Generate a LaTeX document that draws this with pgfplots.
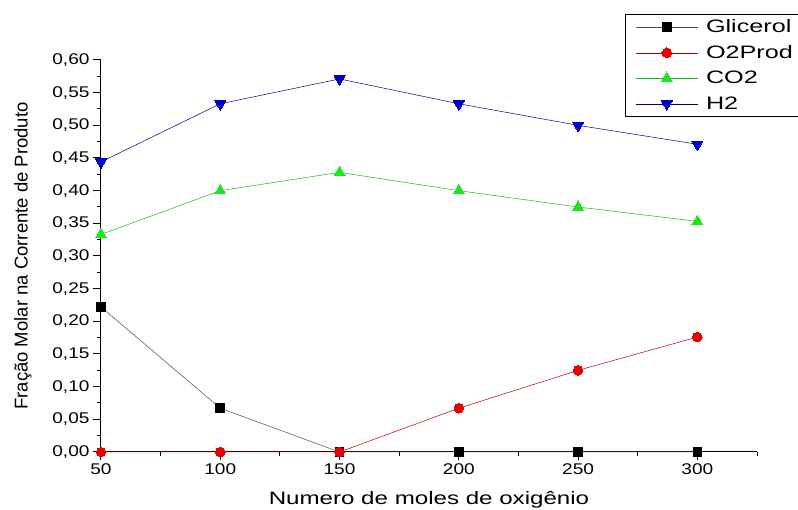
\documentclass[border=0pt]{standalone}
\usepackage{graphicx}
\usepackage{pgfplots}
\pgfplotsset{compat=1.18}
\usetikzlibrary{calc}
\usepackage{fontspec}
\setmainfont{Liberation Sans}
\newcommand\lgs[1]{\hspace*{6pt}\scalebox{1.4}[1]{#1}}
\newcommand\tks[1]{\scalebox{1.23}[1]{#1}}
\definecolor{co2p}{RGB}{230,0,0}
\definecolor{cco}{RGB}{30,230,30}
\definecolor{chh}{RGB}{0,0,200}
\begin{document}
\begin{tikzpicture}
\begin{axis}[name=ax,
  scale only axis, width=656pt, height=392pt,
  xmin=50, xmax=325, ymin=0, ymax=0.60,
  axis x line*=bottom, axis y line*=left,
  axis line style={line width=1pt},
  xtick={50,100,150,200,250,300},
  minor xtick={75,125,175,225,275,325},
  ytick={0,0.05,...,0.61},
  minor ytick={0.025,0.075,...,0.6},
  tick align=outside,
  major tick length=8pt, minor tick length=4pt,
  tick style={line width=1pt, black},
  /pgf/number format/assume math mode=true,
  ticklabel style={font=\fontsize{15.5}{17}\selectfont},
  xticklabel={\tks{\pgfmathprintnumber[fixed,precision=0]{\tick}}},
  yticklabel={\tks{\pgfmathprintnumber[fixed,fixed zerofill,precision=2,use comma]{\tick}}},
  xlabel={\scalebox{1.34}[1]{Numero de moles de oxigênio}},
  ylabel={Fração Molar na Corrente de Produto},
  xlabel style={font=\fontsize{18}{20}\selectfont, yshift=-10pt},
  ylabel style={font=\fontsize{18.5}{20}\selectfont, yshift=14pt},
  legend style={at={(0.799,1.117)}, anchor=north west, draw=black, line width=0.8pt,
     font=\fontsize{18}{20}\selectfont, row sep=8pt, inner xsep=10pt, inner ysep=4pt,
     cells={anchor=west, text height=12pt, text depth=3pt}},
  legend image code/.code={\draw[#1, mark repeat=2, mark phase=2] plot coordinates {(0pt,0pt) (31pt,0pt) (62pt,0pt)};},
  every axis plot/.append style={line width=0.5pt},
  clip=false,
]
\addplot[color=black!70, mark=square*, mark size=4.3pt, mark options={fill=black, draw=black, line width=0pt}]
 coordinates {(50,0.222) (100,0.067) (150,0) (200,0) (250,0) (300,0)};
\addlegendentry{\lgs{Glicerol}}
\addplot[color=co2p!80!black, mark=*, mark size=4.8pt, mark options={fill=co2p, draw=co2p, line width=0pt}]
 coordinates {(50,0) (100,0) (150,0) (200,0.067) (250,0.125) (300,0.176)};
\addlegendentry{\lgs{O2Prod}}
\addplot[color=cco!80!black, mark=triangle*, mark size=6.3pt, mark options={fill=cco, draw=cco, line width=0pt}]
 coordinates {(50,0.333) (100,0.400) (150,0.428) (200,0.400) (250,0.375) (300,0.353)};
\addlegendentry{\lgs{CO2}}
\addplot[color=chh!70!black, mark=triangle*, mark size=6.3pt, mark options={fill=chh, draw=chh, rotate=180, line width=0pt}]
 coordinates {(50,0.444) (100,0.533) (150,0.571) (200,0.533) (250,0.500) (300,0.471)};
\addlegendentry{\lgs{H2}}
\end{axis}
\pgfresetboundingbox
\path[use as bounding box] ($(ax.south west)+(-101pt,-58pt)$) rectangle ($(ax.south west)+(697pt,452pt)$);
\end{tikzpicture}
\end{document}
